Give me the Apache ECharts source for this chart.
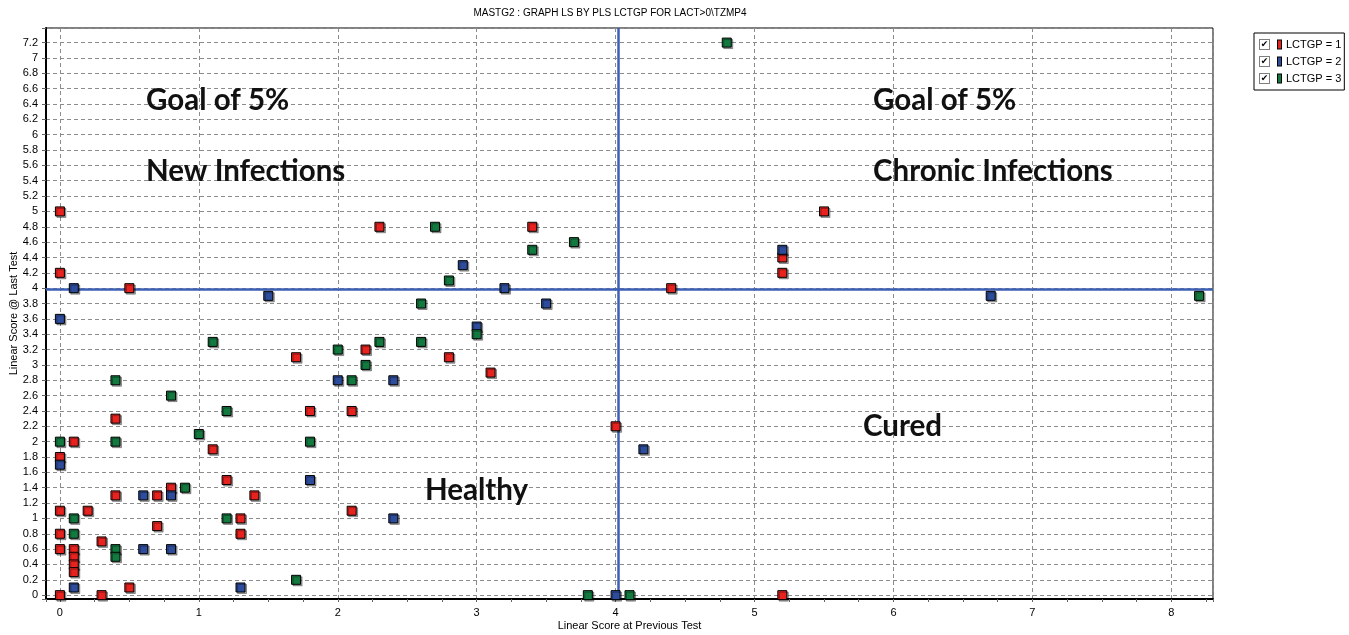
<!DOCTYPE html>
<html>
<head>
<meta charset="utf-8">
<script src="https://cdn.jsdelivr.net/npm/echarts@6/dist/echarts.min.js"></script>
<style>
  html, body { margin: 0; padding: 0; background: #fff; }
  #chart { width: 1349px; height: 635px; }
</style>
</head>
<body>
<div id="chart"></div>
<script>
// [linear score at previous test, linear score @ last test]
const lctgp1 = [
  [0, 5], [0, 4.2], [0.5, 4], [2.3, 4.8], [3.4, 4.8], [5.5, 5], [5.2, 4.4], [5.2, 4.2],
  [4.4, 4], [1.7, 3.1], [2.2, 3.2], [2.8, 3.1], [3.1, 2.9], [1.8, 2.4], [2.1, 2.4],
  [0.4, 2.3], [4.0, 2.2], [0.1, 2], [1.1, 1.9], [0, 1.8], [1.2, 1.5], [0.8, 1.4],
  [0.4, 1.3], [0.7, 1.3], [1.4, 1.3], [0, 1.1], [0.2, 1.1], [2.1, 1.1], [1.3, 1],
  [0.7, 0.9], [0, 0.8], [1.3, 0.8], [0.3, 0.7], [0, 0.6], [0.1, 0.6], [0.1, 0.5],
  [0.1, 0.4], [0.1, 0.3], [0.5, 0.1], [0, 0], [0.3, 0], [5.2, 0]
];
const lctgp2 = [
  [0.1, 4], [3.2, 4], [2.9, 4.3], [5.2, 4.5], [1.5, 3.9], [3.5, 3.8], [6.7, 3.9],
  [0, 3.6], [3.0, 3.5], [2.0, 2.8], [2.4, 2.8], [4.2, 1.9], [0, 1.7], [1.8, 1.5],
  [0.6, 1.3], [0.8, 1.3], [2.4, 1.0], [0.6, 0.6], [0.8, 0.6], [0.1, 0.1], [1.3, 0.1],
  [4.0, 0]
];
const lctgp3 = [
  [4.8, 7.2], [2.7, 4.8], [3.7, 4.6], [3.4, 4.5], [2.8, 4.1], [2.6, 3.8], [8.2, 3.9],
  [1.1, 3.3], [2.3, 3.3], [2.6, 3.3], [3.0, 3.4], [2.0, 3.2], [2.2, 3.0], [0.4, 2.8],
  [2.1, 2.8], [0.8, 2.6], [1.2, 2.4], [1.0, 2.1], [0, 2], [0.4, 2], [1.8, 2],
  [0.9, 1.4], [0.1, 1], [1.2, 1], [0.1, 0.8], [0.4, 0.6], [0.4, 0.5], [1.7, 0.2],
  [3.8, 0], [4.1, 0]
];
const groupNames = ['LCTGP = 1', 'LCTGP = 2', 'LCTGP = 3'];
const groupColors = ['#e8231f', '#2d4c9c', '#137a3f'];
// the two blue cut-off lines
const cutX = 4.02;
const cutY = 3.985;

const font = 'Liberation Sans, Arial, sans-serif';
const bigFont = 'Lato, sans-serif';

const chart = echarts.init(document.getElementById('chart'));
const groups = [lctgp1, lctgp2, lctgp3];

// legend: checkbox + colour chip + text, all in rich text
const legendRich = {
  cb: { width: 9, height: 9, lineHeight: 11, borderColor: '#7f7f7f', borderWidth: 1,
        backgroundColor: '#fff', align: 'center', fontSize: 9, color: '#000',
        fontFamily: 'DejaVu Sans' },
  sp1: { width: 9 },
  sp2: { width: 5 }
};
groupColors.forEach((c, i) => {
  legendRich['m' + i] = { width: 3, height: 8, backgroundColor: c, borderColor: '#000', borderWidth: 1 };
});

function quadText(text, x, y) {
  return {
    type: 'text', x: x, y: y, z: 10,
    style: { text: text, fontSize: 29.5, fontWeight: 'bold', fontFamily: bigFont,
             fill: '#111', verticalAlign: 'middle' }
  };
}

const option = {
  animation: false,
  backgroundColor: '#fff',
  title: {
    text: 'MASTG2 : GRAPH LS BY PLS LCTGP FOR LACT>0\\TZMP4',
    left: 610, top: 8, textAlign: 'center', padding: 0,
    textStyle: { fontSize: 10, fontWeight: 'normal', color: '#000', fontFamily: font }
  },
  legend: {
    data: groupNames,
    orient: 'vertical',
    left: 1254, top: 33,
    padding: [6, 3, 6, 1],
    itemGap: 6,
    icon: 'none',
    itemWidth: 0, itemHeight: 11,
    backgroundColor: '#fff',
    borderColor: '#000', borderWidth: 1, borderRadius: 0,
    selectedMode: false,
    formatter: name => '{cb|✔}{sp1|}{m' + groupNames.indexOf(name) + '|}{sp2|}' + name,
    textStyle: { fontSize: 11, color: '#000', fontFamily: font, rich: legendRich }
  },
  grid: {
    left: 46, right: 136, top: 28, bottom: 36,
    outerBoundsMode: 'none',
    containLabel: false,
    show: true, borderColor: '#000', borderWidth: 1, backgroundColor: 'transparent'
  },
  xAxis: {
    type: 'value', min: -0.1, max: 8.3, splitNumber: 8,
    name: 'Linear Score at Previous Test', nameLocation: 'middle', nameGap: 21,
    nameMoveOverlap: false,
    nameTextStyle: { fontSize: 11, color: '#000', fontFamily: font },
    axisLine: { show: true, onZero: false, lineStyle: { color: '#000', width: 2 } },
    axisTick: { show: true, length: 3, lineStyle: { color: '#666' } },
    minorTick: { show: true, splitNumber: 4, length: 3, lineStyle: { color: '#666' } },
    axisLabel: {
      fontSize: 11, color: '#000', margin: 8, fontFamily: font,
      formatter: v => (Math.abs(v - Math.round(v)) < 1e-6 ? String(Math.round(v)) : '')
    },
    splitLine: { show: true, lineStyle: { color: '#8c8c8c', type: [4, 3], width: 1 } },
    minorSplitLine: { show: false }
  },
  yAxis: {
    type: 'value', min: -0.05, max: 7.39, splitNumber: 37,
    name: 'Linear Score @ Last Test', nameLocation: 'middle', nameGap: 27,
    nameMoveOverlap: false,
    nameTextStyle: { fontSize: 11, color: '#000', fontFamily: font },
    axisLine: { show: true, onZero: false, lineStyle: { color: '#000', width: 2 } },
    axisTick: { show: true, length: 4, lineStyle: { color: '#666' } },
    axisLabel: {
      fontSize: 11, color: '#000', margin: 8, fontFamily: font,
      formatter: v => {
        const k = Math.round(v * 5);
        return Math.abs(v * 5 - k) < 1e-6 ? String(+(k / 5).toFixed(1)) : '';
      }
    },
    splitLine: { show: true, lineStyle: { color: '#8c8c8c', type: [4, 3], width: 1 } }
  },
  graphic: [
    quadText('Goal of 5%', 146, 100),
    quadText('New Infections', 146, 171),
    quadText('Goal of 5%', 873, 100),
    quadText('Chronic Infections', 873, 171),
    quadText('Healthy', 425, 490),
    quadText('Cured', 863, 426)
  ],
  series: groups.map((g, i) => ({
    name: groupNames[i],
    type: 'scatter',
    data: g,
    symbol: 'rect',
    symbolSize: 9,
    z: 3,
    itemStyle: {
      color: groupColors[i], borderColor: '#000', borderWidth: 1, opacity: 1,
      shadowColor: 'rgba(0,0,0,0.35)', shadowOffsetX: 1.5, shadowOffsetY: 1.5, shadowBlur: 0
    },
    emphasis: { disabled: true }
  })).concat([{
    name: 'cut',
    type: 'line',
    data: [],
    z: 1,
    silent: true,
    markLine: {
      z: 1,
      silent: true,
      symbol: ['none', 'none'],
      label: { show: false },
      lineStyle: { color: '#3d5fb5', width: 2.5, type: 'solid' },
      emphasis: { disabled: true },
      data: [{ xAxis: cutX }, { yAxis: cutY }]
    }
  }])
};

chart.setOption(option);
</script>
</body>
</html>
